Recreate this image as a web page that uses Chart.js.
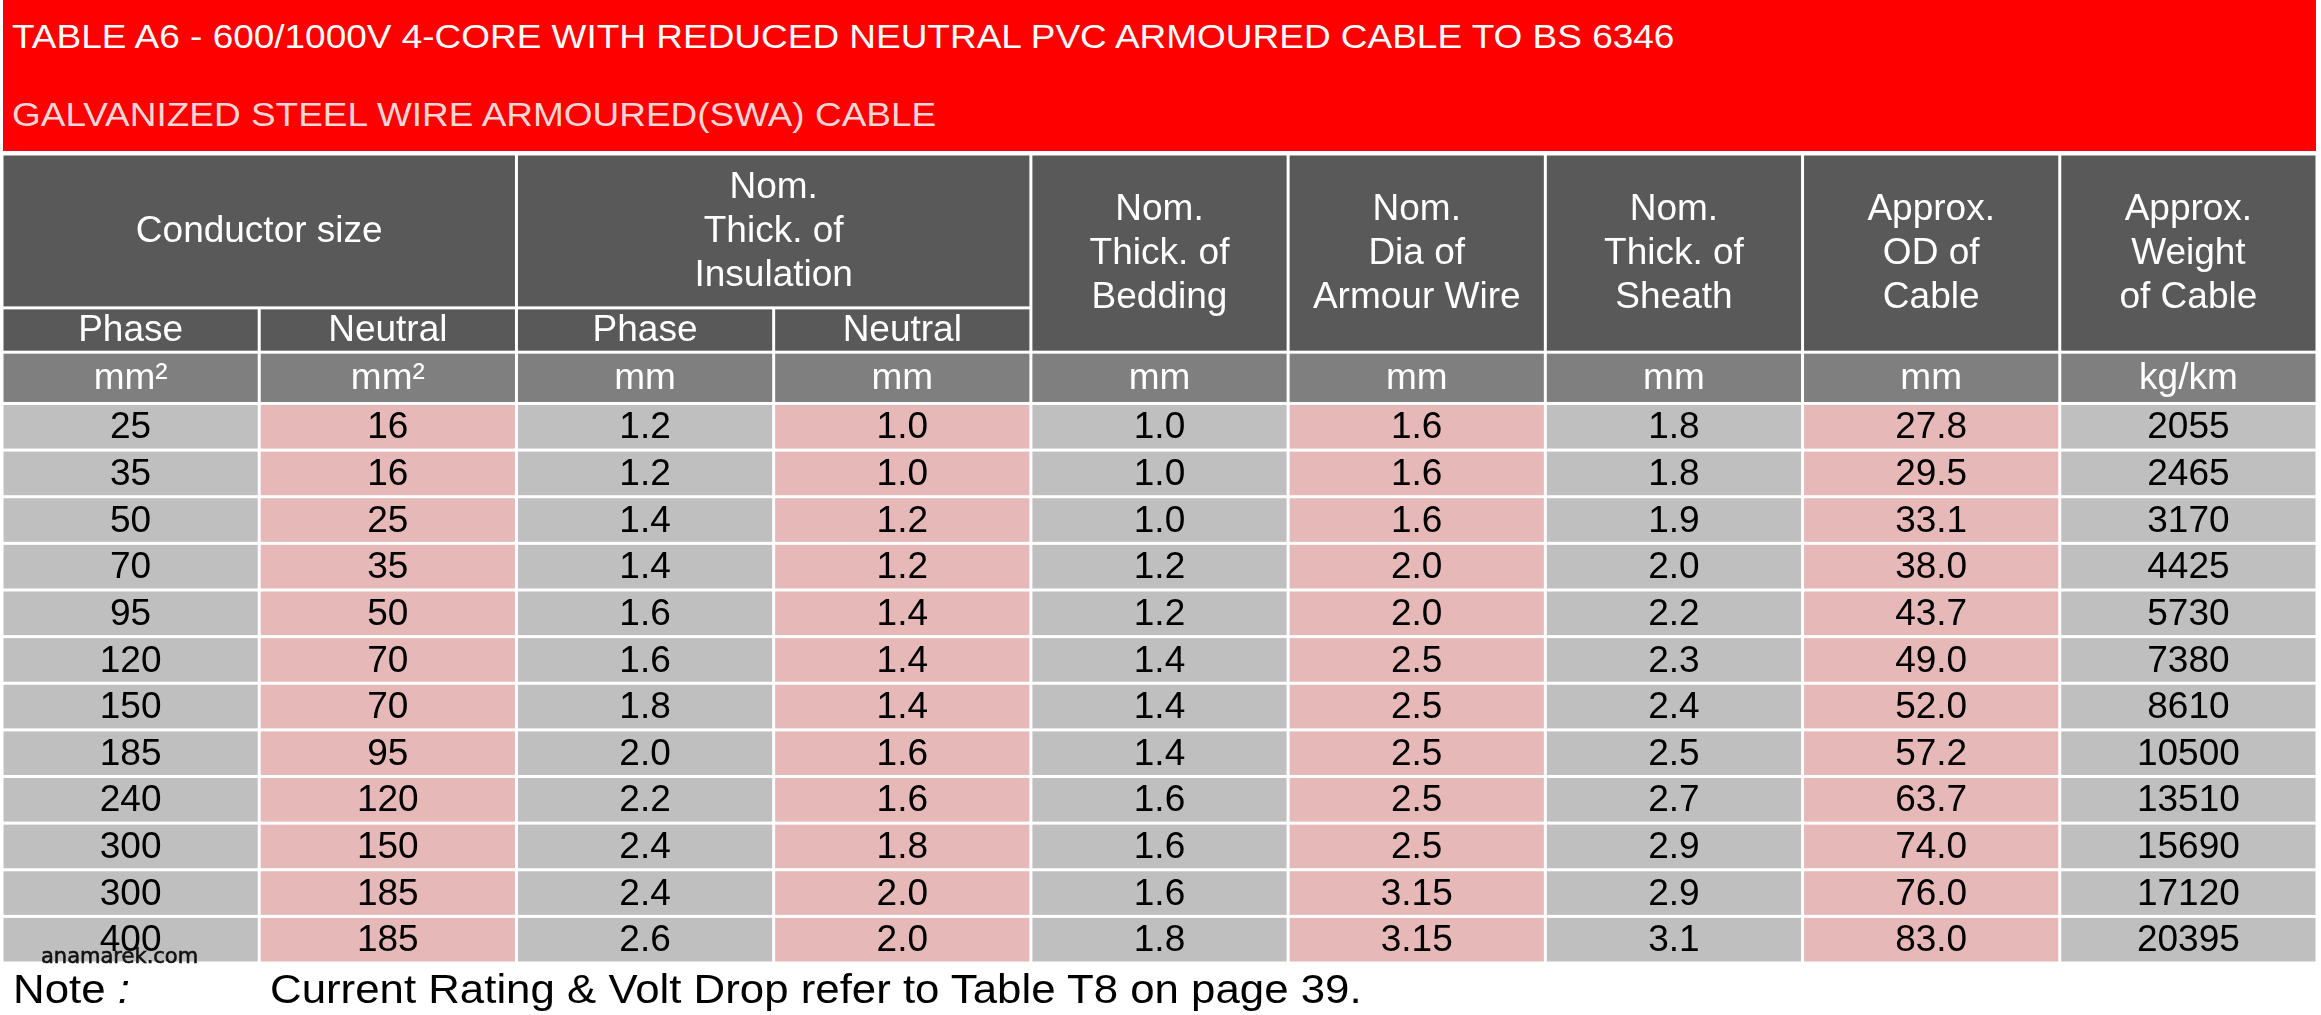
<!DOCTYPE html>
<html>
<head>
<meta charset="utf-8">
<script src="https://cdn.jsdelivr.net/npm/chart.js@4.4.0/dist/chart.umd.min.js"></script>
<style>
  body { margin: 0; background: #fff; font-family: "Liberation Sans", Arial, sans-serif; }
  #wrap { position: relative; width: 2321px; height: 1015px; overflow: hidden; }
  #tableChart { position: absolute; left: 0; top: 0; }
  .title { position: absolute; left: 3px; top: 0; width: 2313px; height: 151px; background: #ff0000; }
  .title div { position: absolute; left: 9px; font-size: 33px; white-space: nowrap; line-height: 1;
               transform: scaleX(1.12); transform-origin: left top; }
  #t1 { top: 20px; color: #ffffff; }
  #t2 { top: 98px; color: #fbd6d6; }
  .note { position: absolute; top: 969px; font-size: 40px; color: #000; white-space: nowrap; line-height: 1;
          transform: scaleX(1.095); transform-origin: left top; }
  .mark { position: absolute; left: 41px; top: 946px; font-family: "DejaVu Sans", sans-serif; font-size: 21px;
          color: #111; -webkit-text-stroke: 0.6px #111; line-height: 1; }
</style>
</head>
<body>
<div id="wrap">
  <canvas id="tableChart" width="2321" height="1015"></canvas>
  <div class="title">
    <div id="t1">TABLE A6 - 600/1000V 4-CORE WITH REDUCED NEUTRAL PVC ARMOURED CABLE TO BS 6346</div>
    <div id="t2">GALVANIZED STEEL WIRE ARMOURED(SWA) CABLE</div>
  </div>
  <div class="note" style="left:13px">Note <i>:</i></div>
  <div class="note" style="left:270px">Current Rating &amp; Volt Drop refer to Table T8 on page 39.</div>
  <div class="mark">anamarek.com</div>
</div>
<script>
// table values, one array per column
const phaseSize = [25, 35, 50, 70, 95, 120, 150, 185, 240, 300, 300, 400];
const neutralSize = [16, 16, 25, 35, 50, 70, 70, 95, 120, 150, 185, 185];
const insPhase = [1.2, 1.2, 1.4, 1.4, 1.6, 1.6, 1.8, 2.0, 2.2, 2.4, 2.4, 2.6];
const insNeutral = [1.0, 1.0, 1.2, 1.2, 1.4, 1.4, 1.4, 1.6, 1.6, 1.8, 2.0, 2.0];
const bedding = [1.0, 1.0, 1.0, 1.2, 1.2, 1.4, 1.4, 1.4, 1.6, 1.6, 1.6, 1.8];
const armourWire = [1.6, 1.6, 1.6, 2.0, 2.0, 2.5, 2.5, 2.5, 2.5, 2.5, 3.15, 3.15];
const sheath = [1.8, 1.8, 1.9, 2.0, 2.2, 2.3, 2.4, 2.5, 2.7, 2.9, 2.9, 3.1];
const outerDia = [27.8, 29.5, 33.1, 38.0, 43.7, 49.0, 52.0, 57.2, 63.7, 74.0, 76.0, 83.0];
const weight = [2055, 2465, 3170, 4425, 5730, 7380, 8610, 10500, 13510, 15690, 17120, 20395];

const units = ["mm²", "mm²", "mm", "mm", "mm", "mm", "mm", "mm", "kg/km"];
const groupHeads = [["Conductor size"], ["Nom.", "Thick. of", "Insulation"]];
const subHeads = ["Phase", "Neutral", "Phase", "Neutral"];
const colHeads = [
  ["Nom.", "Thick. of", "Bedding"],
  ["Nom.", "Dia of", "Armour Wire"],
  ["Nom.", "Thick. of", "Sheath"],
  ["Approx.", "OD of", "Cable"],
  ["Approx.", "Weight", "of Cable"]
];

const columns = [phaseSize, neutralSize, insPhase, insNeutral, bedding, armourWire, sheath, outerDia, weight];
// least number of decimals shown per column
const minDecimals = [0, 0, 1, 1, 1, 1, 1, 1, 0];

// row bands in y units (one data row = 1)
const headTop = 0, headSub = 3.3, unitTop = 4.25, dataTop = 5.35;
const nRows = phaseSize.length;

const FONT = '"Liberation Sans", Arial, sans-serif';
const GAP = 1.5;

function fmt(v, d) {
  return v.toLocaleString("en-US", { minimumFractionDigits: d, useGrouping: false });
}

const tablePlugin = {
  id: "tablePlugin",
  beforeDatasetsDraw(chart) {
    const ctx = chart.ctx;
    const xs = chart.scales.x, ys = chart.scales.y;
    function cell(c0, c1, r0, r1, fill, lines, color) {
      const x0 = xs.getPixelForValue(c0) + GAP, x1 = xs.getPixelForValue(c1) - GAP;
      const y0 = ys.getPixelForValue(r0) + GAP, y1 = ys.getPixelForValue(r1) - GAP;
      ctx.fillStyle = fill;
      ctx.fillRect(x0, y0, x1 - x0, y1 - y0);
      if (!lines) return;
      ctx.fillStyle = color;
      ctx.font = "37px " + FONT;
      ctx.textAlign = "center";
      ctx.textBaseline = "middle";
      const lh = 44;
      const cy = (y0 + y1) / 2 + 1 - (lines.length - 1) * lh / 2;
      lines.forEach((t, i) => ctx.fillText(t, (x0 + x1) / 2, cy + i * lh));
    }
    ctx.save();
    cell(0, 2, headTop, headSub, "#595959", groupHeads[0], "#fff");
    cell(2, 4, headTop, headSub, "#595959", groupHeads[1], "#fff");
    subHeads.forEach((t, i) => cell(i, i + 1, headSub, unitTop, "#595959", [t], "#fff"));
    colHeads.forEach((t, i) => cell(i + 4, i + 5, headTop, unitTop, "#595959", t, "#fff"));
    units.forEach((t, i) => cell(i, i + 1, unitTop, dataTop, "#7f7f7f", [t], "#fff"));
    for (let r = 0; r < nRows; r++) {
      for (let c = 0; c < columns.length; c++) {
        cell(c, c + 1, dataTop + r, dataTop + r + 1, c % 2 ? "#e6b8b7" : "#bfbfbf");
      }
    }
    ctx.restore();
  },
  afterDatasetsDraw(chart) {
    const ctx = chart.ctx;
    ctx.save();
    ctx.fillStyle = "#000";
    ctx.font = "37px " + FONT;
    ctx.textAlign = "center";
    ctx.textBaseline = "middle";
    chart.data.datasets.forEach((ds, i) => {
      chart.getDatasetMeta(i).data.forEach((pt, j) => {
        ctx.fillText(fmt(ds.data[j].v, minDecimals[i]), pt.x, pt.y);
      });
    });
    ctx.restore();
  }
};

const ctx = document.getElementById("tableChart").getContext("2d");
new Chart(ctx, {
  type: "scatter",
  data: {
    datasets: columns.map((col, c) => ({
      label: "col" + c,
      data: col.map((v, r) => ({ x: c + 0.5, y: dataTop + r + 0.53, v: v })),
      pointRadius: 0
    }))
  },
  options: {
    responsive: false,
    animation: false,
    devicePixelRatio: 1,
    layout: { padding: { top: 154, bottom: 52, left: 2, right: 4 } },
    scales: {
      x: { type: "linear", min: 0, max: 9, display: false },
      y: { type: "linear", min: 0, max: dataTop + nRows, reverse: true, display: false }
    },
    plugins: { legend: { display: false }, tooltip: { enabled: false } }
  },
  plugins: [tablePlugin]
});
</script>
</body>
</html>
